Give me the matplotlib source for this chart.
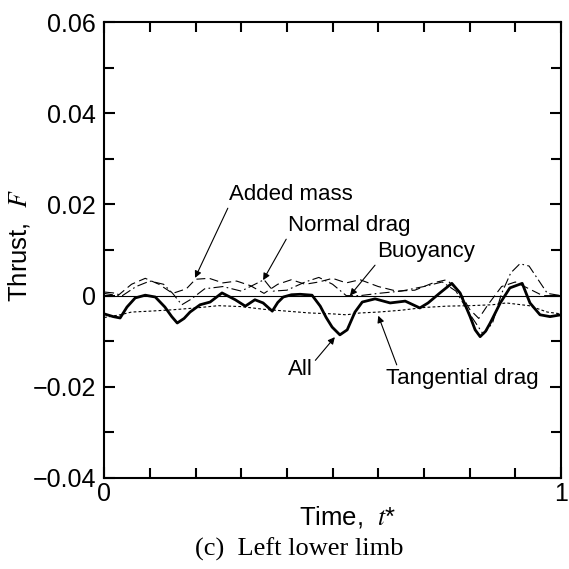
import matplotlib

matplotlib.use('Agg')
import matplotlib.pyplot as plt
from matplotlib.ticker import MultipleLocator, FixedLocator

plt.rcParams['font.family'] = ['Liberation Sans', 'DejaVu Sans']
plt.rcParams['mathtext.fontset'] = 'stix'

# time t* and thrust F
t_all = [0.0, 0.02, 0.035, 0.05, 0.068, 0.09, 0.112, 0.133, 0.148, 0.16, 0.175, 0.188,
         0.21, 0.232, 0.258, 0.287, 0.309, 0.33, 0.348, 0.368, 0.38, 0.392, 0.41, 0.429,
         0.455, 0.473, 0.486, 0.499, 0.516, 0.532, 0.549, 0.565, 0.593, 0.626, 0.659,
         0.691, 0.709, 0.735, 0.761, 0.779, 0.801, 0.812, 0.823, 0.835, 0.845, 0.867,
         0.888, 0.915, 0.932, 0.954, 0.976, 1.0]
f_all = [-0.0040, -0.0046, -0.0049, -0.0025, -0.0005, 0.0001, -0.0003, -0.0025, -0.0046,
         -0.0060, -0.0050, -0.0036, -0.0020, -0.0014, 0.0006, -0.0009, -0.0023, -0.0009,
         -0.0016, -0.0034, -0.0015, -0.0003, 0.0002, 0.0003, 0.0001, -0.0023, -0.0048,
         -0.0069, -0.0086, -0.0075, -0.0036, -0.0014, -0.0007, -0.0016, -0.0012, -0.0027,
         -0.0016, 0.0006, 0.0027, 0.0006, -0.0046, -0.0075, -0.0090, -0.0078, -0.0060,
         -0.0016, 0.0017, 0.0027, -0.0016, -0.0042, -0.0046, -0.0042]

t_tan = [0.0, 0.035, 0.06, 0.1, 0.15, 0.2, 0.25, 0.3, 0.35, 0.4, 0.45, 0.5, 0.53, 0.56,
         0.6, 0.65, 0.7, 0.75, 0.8, 0.85, 0.88, 0.93, 0.97, 1.0]
f_tan = [-0.0048, -0.0042, -0.0036, -0.0034, -0.0031, -0.0027, -0.0022, -0.0024, -0.0030,
         -0.0034, -0.0038, -0.0040, -0.0042, -0.0038, -0.0036, -0.0032, -0.0026, -0.0023,
         -0.0022, -0.0020, -0.0016, -0.0022, -0.0036, -0.0040]

t_added = [0.0, 0.03, 0.06, 0.09, 0.12, 0.15, 0.18, 0.2, 0.23, 0.26, 0.29, 0.32, 0.35,
           0.38, 0.41, 0.44, 0.47, 0.5, 0.53, 0.56, 0.6, 0.64, 0.68, 0.72, 0.75, 0.78,
           0.8, 0.82, 0.84, 0.87, 0.9, 0.93, 0.96, 1.0]
f_added = [0.0005, 0.0, 0.0025, 0.0038, 0.0025, 0.0005, 0.0015, 0.0036, 0.0038, 0.0028,
           0.0032, 0.0022, 0.0005, 0.0025, 0.0035, 0.0025, 0.0030, 0.0038, 0.0028, 0.0035,
           0.0020, 0.0010, 0.0012, 0.0028, 0.0035, 0.0005, -0.0030, -0.0050, -0.0020,
           0.0020, 0.0030, 0.0015, 0.0, 0.0]

t_normal = [0.0, 0.02, 0.04, 0.07, 0.1, 0.13, 0.15, 0.17, 0.19, 0.22, 0.26, 0.3, 0.33,
            0.35, 0.37, 0.4, 0.44, 0.47, 0.5, 0.53, 0.56, 0.6, 0.65, 0.7, 0.74, 0.77,
            0.8, 0.83, 0.85, 0.87, 0.89, 0.91, 0.93, 0.95, 0.97, 1.0]
f_normal = [0.0008, 0.0006, 0.0, 0.0020, 0.0032, 0.0025, 0.0005, -0.0020, -0.0008, 0.0015,
            0.0020, 0.0010, 0.0025, 0.0035, 0.0010, 0.0012, 0.0030, 0.0040, 0.0025, 0.0,
            0.0, 0.0005, 0.0010, 0.0020, 0.0030, 0.0010, -0.0040, -0.0085, -0.0060, 0.0005,
            0.0050, 0.0070, 0.0065, 0.0035, 0.0005, 0.0]

t_buoy = [0.0, 1.0]
f_buoy = [0.0, 0.0]

y_ticks = [-0.04, -0.02, 0.0, 0.02, 0.04, 0.06]
y_labels = ['\u22120.04', '\u22120.02', '0', '0.02', '0.04', '0.06']

fig = plt.figure(figsize=(5.69, 5.69), dpi=100)
ax = fig.add_axes([0.183, 0.160, 0.803, 0.801])

ax.plot(t_buoy, f_buoy, color='black', lw=0.8)
ax.plot(t_tan, f_tan, color='black', lw=0.8, dashes=(2.5, 2))
ax.plot(t_added, f_added, color='black', lw=0.8, dashes=(8, 4))
ax.plot(t_normal, f_normal, color='black', lw=0.8, dashes=(9, 3, 1.5, 3))
ax.plot(t_all, f_all, color='black', lw=2.0, solid_joinstyle='round')

ax.set_xlim(0, 1)
ax.set_ylim(-0.04, 0.06)
ax.xaxis.set_major_locator(FixedLocator([0, 1]))
ax.xaxis.set_minor_locator(MultipleLocator(0.1))
ax.set_xticklabels(['0', '1'])
ax.yaxis.set_major_locator(FixedLocator(y_ticks))
ax.yaxis.set_minor_locator(MultipleLocator(0.01))
ax.set_yticklabels(y_labels)
ax.tick_params(which='both', direction='in', top=True, right=True, width=1.5,
               labelsize=18)
ax.tick_params(which='major', length=8)
ax.tick_params(which='minor', length=7)
ax.tick_params(axis='x', pad=3)
ax.tick_params(axis='y', pad=6)
for s in ax.spines.values():
    s.set_linewidth(1.5)

ax.set_xlabel(r'Time,  $t$*', fontsize=18.5)
ax.set_ylabel(r'Thrust,  $F$', fontsize=18.5)
ax.xaxis.set_label_coords(0.534, -0.058)
ax.yaxis.set_label_coords(-0.157, 0.51)

arrow = dict(arrowstyle='-|>', lw=0.8, color='black', mutation_scale=10,
             shrinkA=0, shrinkB=0)
ax.annotate('Added mass', xy=(0.199, 0.0039), xytext=(0.409, 0.0221), fontsize=16,
            ha='center', va='center', arrowprops=dict(arrow, relpos=(0, 0)))
ax.annotate('Normal drag', xy=(0.348, 0.0034), xytext=(0.536, 0.0153), fontsize=16,
            ha='center', va='center', arrowprops=dict(arrow, relpos=(0, 0)))
ax.annotate('Buoyancy', xy=(0.538, 0.0), xytext=(0.705, 0.0096), fontsize=16,
            ha='center', va='center', arrowprops=dict(arrow, relpos=(0, 0)))
ax.annotate('All', xy=(0.505, -0.0091), xytext=(0.429, -0.0163), fontsize=16,
            ha='center', va='center', arrowprops=dict(arrow, relpos=(1.0, 0.8)))
ax.annotate('Tangential drag', xy=(0.600, -0.0044), xytext=(0.783, -0.0181), fontsize=16,
            ha='center', va='center', arrowprops=dict(arrow, relpos=(0.08, 1.0)))

fig.text(299 / 569, 1 - 549 / 569, '(c)  Left lower limb', fontsize=19,
         family=['Liberation Serif', 'DejaVu Serif'], ha='center', va='center')

fig.savefig('out.png', dpi=100)
